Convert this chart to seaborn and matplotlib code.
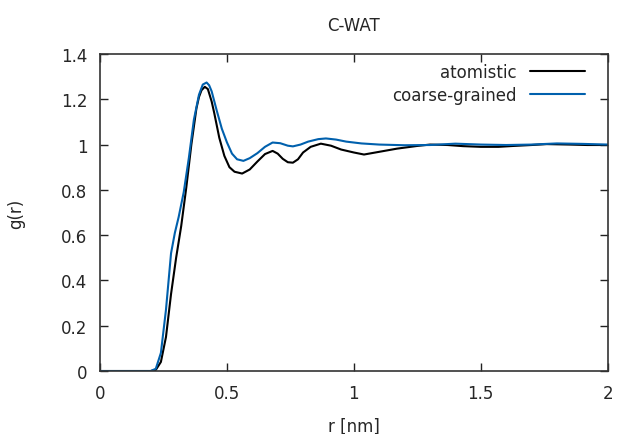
import pandas as pd
import matplotlib
matplotlib.use('Agg')
import matplotlib.pyplot as plt
import seaborn as sns

# values
r_atom = [0, 0.1, 0.2, 0.22, 0.24, 0.26, 0.28, 0.30, 0.32, 0.34, 0.36, 0.38, 0.39, 0.40, 0.413,
          0.425, 0.44, 0.45, 0.47, 0.49, 0.51, 0.53, 0.56, 0.59, 0.62, 0.65, 0.68, 0.70, 0.72,
          0.74, 0.76, 0.78, 0.80, 0.83, 0.87, 0.91, 0.95, 1.0, 1.04, 1.1, 1.17, 1.25,
          1.3, 1.37, 1.43, 1.5, 1.57, 1.63, 1.7, 1.76, 1.85, 1.92, 2.0]
g_atom = [0, 0, 0, 0.005, 0.04, 0.15, 0.34, 0.5, 0.64, 0.81, 1.0, 1.16, 1.21, 1.24, 1.255,
          1.245, 1.19, 1.14, 1.03, 0.95, 0.9, 0.88, 0.872, 0.89, 0.925, 0.958, 0.972, 0.96, 0.937,
          0.922, 0.92, 0.935, 0.965, 0.99, 1.004, 0.995, 0.978, 0.965, 0.956, 0.968, 0.982, 0.994,
          1.0, 0.998, 0.993, 0.99, 0.99, 0.994, 0.998, 1.002, 1.0, 0.998, 0.998]

r_cg = [0, 0.1, 0.2, 0.22, 0.24, 0.26, 0.28, 0.295, 0.31, 0.33, 0.35, 0.37, 0.39, 0.405,
        0.42, 0.43, 0.44, 0.46, 0.48, 0.50, 0.52, 0.54, 0.565, 0.59, 0.62, 0.65, 0.68, 0.71,
        0.74, 0.76, 0.79, 0.82, 0.86, 0.89, 0.93, 0.97, 1.03, 1.1, 1.2, 1.3, 1.4, 1.5,
        1.6, 1.7, 1.8, 1.9, 2.0]
g_cg = [0, 0, 0, 0.01, 0.08, 0.27, 0.52, 0.61, 0.68, 0.79, 0.94, 1.11, 1.22, 1.265,
        1.274, 1.262, 1.235, 1.15, 1.07, 1.01, 0.96, 0.935, 0.928, 0.94, 0.962, 0.99, 1.009, 1.006,
        0.995, 0.992, 1.0, 1.013, 1.024, 1.027, 1.022, 1.013, 1.005, 1.0, 0.997, 0.998, 1.004, 1.0,
        0.998, 1.0, 1.005, 1.003, 1.0]

x_ticks = [0, 0.5, 1, 1.5, 2]
x_labels = ['0', '0.5', '1', '1.5', '2']
y_ticks = [0, 0.2, 0.4, 0.6, 0.8, 1, 1.2, 1.4]
y_labels = ['0', '0.2', '0.4', '0.6', '0.8', '1', '1.2', '1.4']

atom = pd.DataFrame({'r': r_atom, 'g': g_atom})
cg = pd.DataFrame({'r': r_cg, 'g': g_cg})

sns.set_style('white')
plt.rcParams['font.family'] = ['DejaVu Sans']

fig = plt.figure(figsize=(6.17, 4.35), dpi=100)
ax = fig.add_axes([0.162, 0.1448, 0.823, 0.7288])

sns.lineplot(data=atom, x='r', y='g', color='black', lw=1.5, label='atomistic', ax=ax)
sns.lineplot(data=cg, x='r', y='g', color='#0060ad', lw=1.5, label='coarse-grained', ax=ax)

ax.set_xlim(0, 2)
ax.set_ylim(0, 1.4)
ax.set_xticks(x_ticks)
ax.set_xticklabels(x_labels)
ax.set_yticks(y_ticks)
ax.set_yticklabels(y_labels)
ax.tick_params(direction='in', length=6, width=1, bottom=True, left=True, top=True, right=True,
               labelsize=12, color='#222222')
ax.tick_params(axis='x', pad=9)
ax.tick_params(axis='y', pad=9)
for s in ax.spines.values():
    s.set_color('#333333')
    s.set_linewidth(1.2)

ax.set_xlabel('r [nm]', fontsize=12, labelpad=11)
ax.set_ylabel('g(r)', fontsize=12, labelpad=26)
ax.set_title('C-WAT', fontsize=12, pad=17)

ax.legend(loc='upper right', frameon=False, markerfirst=False, fontsize=12,
          handlelength=3.3, handletextpad=0.8, labelspacing=0.3,
          borderpad=0, borderaxespad=0, bbox_to_anchor=(0.955, 0.972))

fig.savefig('out.png', dpi=100)
